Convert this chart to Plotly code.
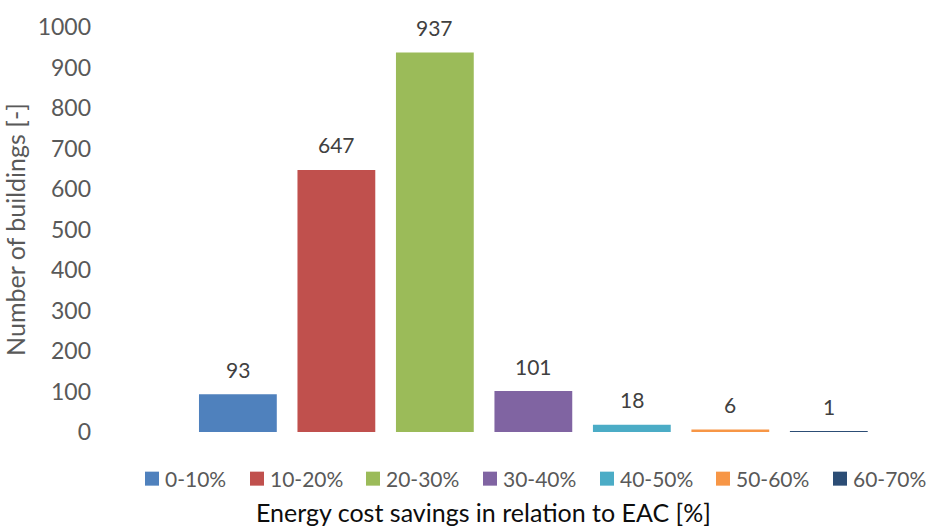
import plotly.graph_objects as go

# Savings classes and building counts
categories = ["0-10%", "10-20%", "20-30%", "30-40%", "40-50%", "50-60%", "60-70%"]
buildings = [93, 647, 937, 101, 18, 6, 1]
colors = ["#4F81BD", "#C0504D", "#9BBB59", "#8064A2", "#4BACC6", "#F79646", "#2C4D75"]
y_ticks = [0, 100, 200, 300, 400, 500, 600, 700, 800, 900, 1000]

FONT = "Lato, 'Open Sans', sans-serif"
GREY = "#595959"

W, H = 927, 529
ML, MR, MT, MB = 100, 45, 24, 97
PLOT_W = W - ML - MR
PLOT_H = H - MT - MB

fig = go.Figure()
for i, (cat, val, col) in enumerate(zip(categories, buildings, colors)):
    # first slot on the category axis is left empty
    pos = i + 1
    fig.add_trace(go.Bar(
        x=[pos], y=[val], name=cat, width=0.79,
        marker=dict(color=col, line=dict(width=0)),
        hoverinfo="name+y", showlegend=False,
    ))
    fig.add_annotation(
        x=pos, y=val, text=str(val), showarrow=False,
        yanchor="middle", yshift=25,
        font=dict(family=FONT, size=21, color="#404040"),
    )

# Legend row below the plot: colour square + label per class
legend_px = [145, 250, 366, 483, 600, 716, 833]   # left edge of each key square
legend_cy = -(479 - (H - MB)) / PLOT_H            # vertical centre in paper units
for cat, col, px in zip(categories, colors, legend_px):
    xp = (px - ML) / PLOT_W
    fig.add_shape(
        type="rect", xref="paper", yref="paper",
        xsizemode="pixel", ysizemode="pixel",
        xanchor=xp, yanchor=legend_cy,
        x0=0, x1=14, y0=-7, y1=7,
        fillcolor=col, line=dict(width=0),
    )
    fig.add_annotation(
        xref="paper", yref="paper", x=xp, y=legend_cy,
        xanchor="left", yanchor="middle", xshift=18,
        text=cat, showarrow=False,
        font=dict(family=FONT, size=21, color=GREY),
    )

fig.add_annotation(
    xref="paper", yref="paper", x=(483 - ML) / PLOT_W, y=-(513 - (H - MB)) / PLOT_H,
    text="Energy cost savings in relation to EAC [%]", showarrow=False,
    xanchor="center", yanchor="middle",
    font=dict(family=FONT, size=25, color="#0d0d0d"),
)

fig.update_layout(
    width=W, height=H,
    margin=dict(l=ML, r=MR, t=MT, b=MB),
    paper_bgcolor="white", plot_bgcolor="white",
    barmode="overlay",
    showlegend=False,
    xaxis=dict(
        range=[-0.4, 7.54], showticklabels=False, showgrid=False,
        zeroline=False, showline=False, ticks="",
    ),
    yaxis=dict(
        range=[0, 1000], tickvals=y_ticks, showgrid=False, zeroline=False,
        showline=False, ticks="", ticklabelstandoff=8,
        tickfont=dict(family=FONT, size=23, color=GREY),
        title=dict(text="Number of buildings [-]", standoff=4,
                   font=dict(family=FONT, size=25, color=GREY)),
    ),
)

fig.write_html("out.html")
